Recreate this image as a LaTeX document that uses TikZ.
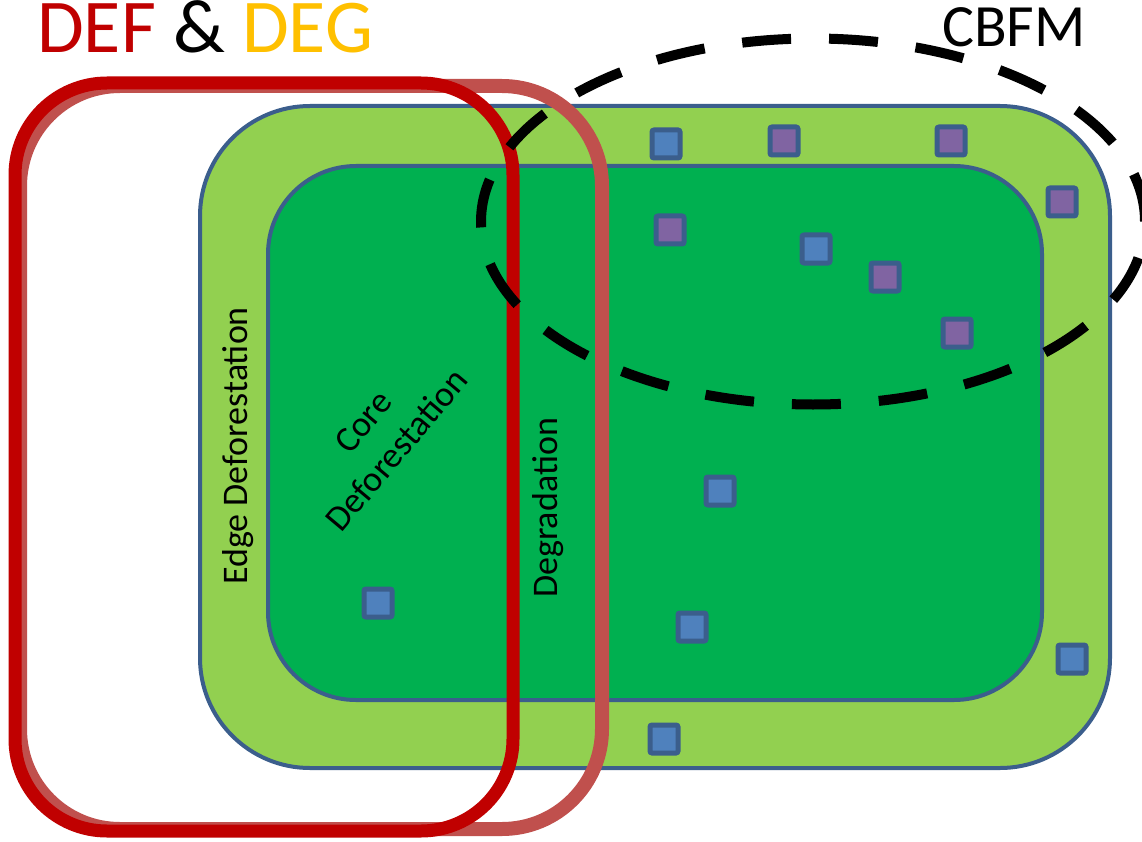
\documentclass[tikz,border=0pt]{standalone}
\usepackage{fontspec}
\setmainfont{Carlito}
\definecolor{lgreen}{HTML}{92D050}
\definecolor{dgreen}{HTML}{00B050}
\definecolor{bord}{HTML}{3B5E8C}
\definecolor{sqblue}{HTML}{4F81BD}
\definecolor{sqpurple}{HTML}{8064A2}
\definecolor{defred}{HTML}{C00000}
\definecolor{degred}{HTML}{C0504D}
\definecolor{degyellow}{HTML}{FFC000}
\tikzset{
  sqbox/.style={draw=bord, line width=5pt, minimum size=28pt, inner sep=0pt, rounded corners=2pt, shape=rectangle},
  bsq/.style={sqbox, fill=sqblue},
  psq/.style={sqbox, fill=sqpurple},
  lbl/.style={font=\fontsize{36}{44}\selectfont, inner sep=0pt, text=black},
  zone/.style={draw=bord, line width=4pt},
  defbox/.style={draw=defred, line width=13pt, rounded corners=92pt},
  degbox/.style={draw=degred, line width=14pt, rounded corners=100pt},
  cbfm/.style={draw=black, line width=10pt, dash pattern=on 49pt off 38pt, dash phase=0pt}
}
\begin{document}
\begin{tikzpicture}[x=1pt,y=-1pt]
\fill[white] (0,0) rectangle (1142,842);
\useasboundingbox (0,0) rectangle (1142,842);
% forest zones
\draw[zone, fill=lgreen, rounded corners=110pt] (200,106) rectangle (1110,768);
\draw[zone, fill=dgreen, rounded corners=88pt] (268,166) rectangle (1042,700);
% plots
\node[bsq] (s1) at (666,144) {};
\node[psq] (s2) at (784,141) {};
\node[psq] (s3) at (951,141) {};
\node[psq] (s4) at (1062,202) {};
\node[psq] (s5) at (670,230) {};
\node[bsq] (s6) at (816,249) {};
\node[psq] (s7) at (885,277) {};
\node[psq] (s8) at (957,333) {};
\node[bsq] (s9) at (720,491) {};
\node[bsq] (s10) at (378,603) {};
\node[bsq] (s11) at (692,627) {};
\node[bsq] (s12) at (1072,659) {};
\node[bsq] (s13) at (664,739) {};
% labels
\node[lbl, rotate=90, anchor=base] (edge) at (247,446) {Edge Deforestation};
\node[lbl, rotate=90, anchor=base] (degr) at (557,508) {Degradation};
\node[lbl, rotate=50, align=center] (core) at (380,436) {Core\\Deforestation};
% DEF & DEG boxes
\draw[degbox] (20,86) rectangle (602,829);
\draw[defbox] (15,83) rectangle (513,831);
% CBFM
\draw[cbfm] (813,221.5) ellipse [x radius=332pt, y radius=183pt];
% titles
\node[anchor=base west, inner sep=0pt, font=\fontsize{76}{80}\selectfont] (title) at (37,53)
  {\textcolor{defred}{DEF} \textcolor{black}{\&} \textcolor{degyellow}{DEG}};
\node[anchor=base west, inner sep=0pt, font=\fontsize{60}{64}\selectfont] (cbfmlbl) at (942,47) {CBFM};
\end{tikzpicture}
\end{document}
